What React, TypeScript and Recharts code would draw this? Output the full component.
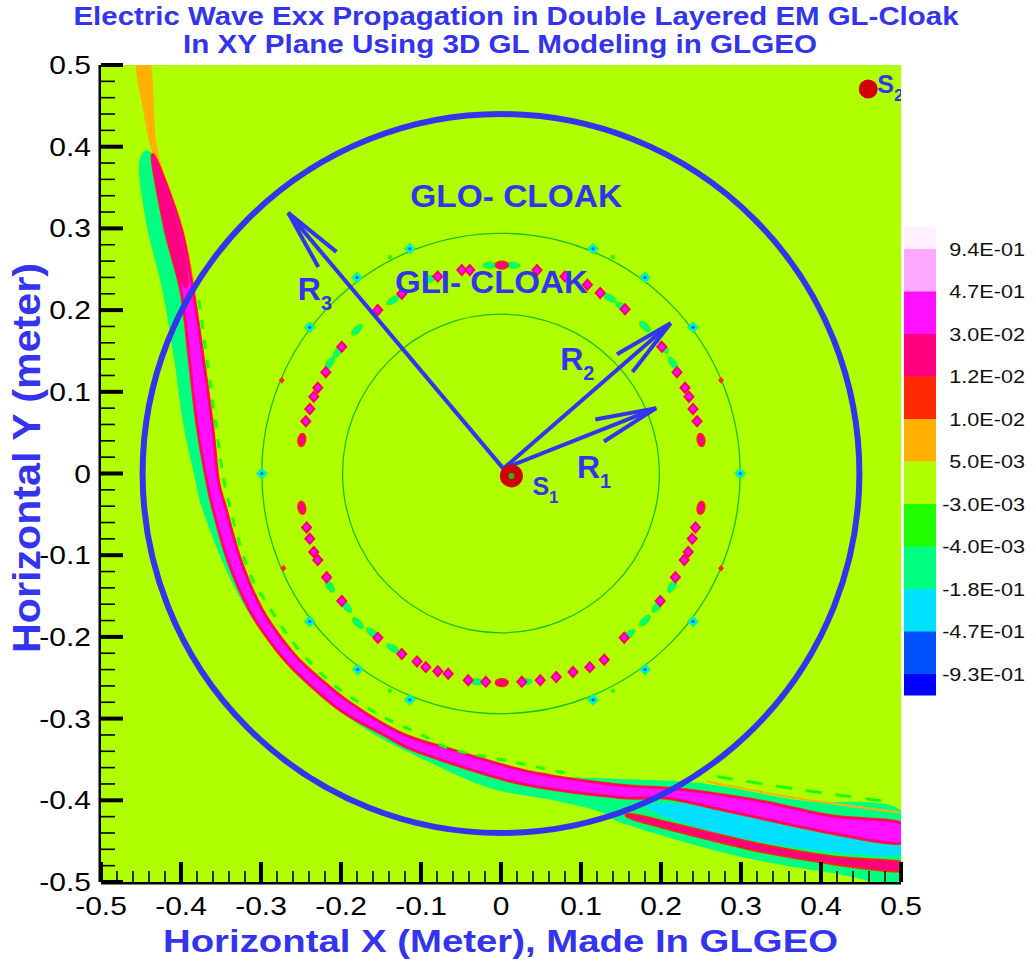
import React from "react";
import { ComposedChart, Scatter, XAxis, YAxis } from "recharts";

type Pt = [number, number];

const FONT = "'Liberation Sans', Arial, Helvetica, sans-serif";
const BLUE = "#3434ee";

// axis ticks (metres)
const majorTicks = [-0.5, -0.4, -0.3, -0.2, -0.1, 0, 0.1, 0.2, 0.3, 0.4, 0.5];
const minorTicks = [
  -0.48, -0.46, -0.44, -0.42, -0.38, -0.36, -0.34, -0.32, -0.28, -0.26, -0.24, -0.22,
  -0.18, -0.16, -0.14, -0.12, -0.08, -0.06, -0.04, -0.02, 0.02, 0.04, 0.06, 0.08,
  0.12, 0.14, 0.16, 0.18, 0.22, 0.24, 0.26, 0.28, 0.32, 0.34, 0.36, 0.38,
  0.42, 0.44, 0.46, 0.48,
];

// contour levels, top of the colour bar first
const levelColors = [
  "#fff0ff", "#ffa8ff", "#ff10ff", "#ff0080", "#ff2800", "#ffb000",
  "#b0ff00", "#20ff00", "#00ff80", "#00e0ff", "#0050ff", "#0000ff",
];
const levelLabels = [
  "9.4E-01", "4.7E-01", "3.0E-02", "1.2E-02", "1.0E-02", "5.0E-03",
  "-3.0E-03", "-4.0E-03", "-1.8E-01", "-4.7E-01", "-9.3E-01",
];

// field regions (x, y in metres)
const plotFrame: Pt[] = [[-0.5, -0.5], [-0.5, 0.5], [0.5, 0.5], [0.5, -0.5]];

const orangeStrip: Pt[] = [
  [-0.456, 0.5], [-0.4375, 0.5], [-0.429, 0.396], [-0.3975, 0.302], [-0.381, 0.221],
  [-0.385, 0.221], [-0.401, 0.302], [-0.435, 0.39], [-0.4475, 0.445],
];

const greenBand: Pt[] = [
  [-0.4525, 0.378], [-0.4425, 0.302], [-0.4225, 0.221], [-0.4085, 0.139], [-0.3965, 0.057],
  [-0.382, -0.008], [-0.374, -0.041], [-0.349, -0.106], [-0.3175, -0.167], [-0.2725, -0.228],
  [-0.23, -0.269], [-0.1675, -0.314], [-0.101, -0.348], [-0.0175, -0.384], [0.065, -0.4],
  [0.124, -0.414], [0.1575, -0.43], [0.29, -0.467], [0.415, -0.489], [0.499, -0.4975],
  [0.499, -0.412], [0.374, -0.4], [0.249, -0.379], [0.124, -0.373], [0.049, -0.368],
  [-0.064, -0.338], [-0.126, -0.318], [-0.189, -0.281], [-0.239, -0.241], [-0.264, -0.216],
  [-0.299, -0.167], [-0.326, -0.106], [-0.345, -0.041], [-0.354, -0.008], [-0.361, 0.057],
  [-0.3725, 0.139], [-0.385, 0.221], [-0.401, 0.302], [-0.435, 0.39],
];

const cyanBand: Pt[] = [
  [0.195, -0.404], [0.29, -0.41], [0.415, -0.436], [0.499, -0.448],
  [0.499, -0.467], [0.415, -0.463], [0.29, -0.445], [0.195, -0.416],
];

const lowerRedBand: Pt[] = [
  [0.174, -0.42], [0.311, -0.452], [0.415, -0.47], [0.499, -0.476],
  [0.499, -0.486], [0.415, -0.477], [0.311, -0.459], [0.174, -0.425],
];

const mainBand: Pt[] = [
  [-0.435, 0.39], [-0.401, 0.302], [-0.385, 0.221], [-0.3725, 0.139], [-0.361, 0.057],
  [-0.354, -0.008], [-0.345, -0.041], [-0.326, -0.106], [-0.299, -0.167], [-0.264, -0.216],
  [-0.239, -0.241], [-0.189, -0.281], [-0.126, -0.318], [-0.064, -0.338], [0.024, -0.363],
  [0.099, -0.376], [0.161, -0.383], [0.224, -0.387], [0.29, -0.396], [0.3325, -0.403],
  [0.415, -0.42], [0.499, -0.428],
  [0.499, -0.452], [0.415, -0.44], [0.29, -0.414], [0.2075, -0.397], [0.149, -0.396],
  [0.024, -0.379], [-0.101, -0.341], [-0.145, -0.32], [-0.201, -0.289], [-0.251, -0.247],
  [-0.28, -0.216], [-0.314, -0.167], [-0.341, -0.106], [-0.36, -0.041], [-0.3675, -0.008],
  [-0.379, 0.057], [-0.389, 0.139], [-0.399, 0.221], [-0.42, 0.302],
];

const mainBandTip: Pt[] = [
  [-0.434, 0.386], [-0.403, 0.302], [-0.3905, 0.235], [-0.4005, 0.235], [-0.4185, 0.302],
];

const dashesAlongBand: Pt[] = [
  [-0.3775, 0.212], [-0.3675, 0.139], [-0.356, 0.057], [-0.344, -0.02], [-0.3175, -0.114],
  [-0.2925, -0.159], [-0.255, -0.213], [-0.2075, -0.26], [-0.151, -0.296], [-0.101, -0.319],
  [-0.06, -0.338], [0.015, -0.353], [0.086, -0.368],
];
const dashesRight: Pt[] = [[0.27, -0.371], [0.374, -0.387], [0.486, -0.402]];
const orangeEdge: Pt[] = [[0.2575, -0.377], [0.374, -0.398], [0.499, -0.415]];

// cloak boundaries: centre and semi-axes (outer circle, GLO ring, GLI ring)
const cloakCenter: Pt = [0, 0];
const ringRadii: Pt[] = [[0.448, 0.44], [0.299, 0.294], [0.198, 0.195]];

// field spots along the cloak layers
const ringRed: Pt[] = [
  [-0.244, 0.064], [-0.239, 0.079], [-0.234, 0.094], [-0.229, 0.105], [-0.219, 0.124],
  [-0.199, 0.155], [-0.154, 0.2], [-0.124, 0.22], [-0.079, 0.241], [-0.049, 0.249],
  [-0.039, 0.249], [0.045, 0.249], [0.08, 0.241], [0.108, 0.231], [0.124, 0.221],
  [0.155, 0.201], [0.201, 0.155], [0.22, 0.124], [0.23, 0.105], [0.235, 0.094],
  [0.24, 0.079], [0.245, 0.064],
  [-0.243, -0.066], [-0.239, -0.08], [-0.234, -0.096], [-0.229, -0.106], [-0.218, -0.127],
  [-0.199, -0.156], [-0.154, -0.201], [-0.124, -0.221], [-0.105, -0.23], [-0.094, -0.237],
  [-0.079, -0.242], [-0.066, -0.245], [-0.041, -0.253], [-0.019, -0.255], [0.026, -0.255],
  [0.049, -0.253], [0.069, -0.249], [0.09, -0.243], [0.111, -0.237], [0.129, -0.228],
  [0.154, -0.201], [0.199, -0.156], [0.218, -0.127], [0.229, -0.106], [0.234, -0.096],
  [0.239, -0.08], [0.243, -0.066],
];
const ringOval: Pt[] = [
  [-0.249, 0.041], [0.25, 0.041], [-0.249, -0.042], [0.25, -0.042], [0.001, 0.255], [0.001, -0.256],
];
const ringGreen: Pt[] = [
  [-0.214, 0.135], [-0.204, 0.149], [-0.18, 0.176], [-0.135, 0.212], [-0.089, 0.238],
  [-0.014, 0.255], [0.015, 0.255], [0.136, 0.215], [0.151, 0.204], [0.18, 0.18],
  [0.203, 0.154], [0.215, 0.135],
  [-0.214, -0.138], [-0.193, -0.163], [-0.179, -0.183], [-0.161, -0.195], [-0.135, -0.214],
  [-0.03, -0.255], [0.03, -0.255], [0.16, -0.197], [0.18, -0.18], [0.195, -0.163], [0.214, -0.138],
];
const outerRingMarks: Pt[] = [
  [-0.299, 0], [0.299, 0], [-0.239, 0.179], [-0.18, 0.24], [-0.114, 0.275], [0.115, 0.275],
  [0.18, 0.24], [0.24, 0.179], [-0.239, -0.181], [-0.179, -0.24], [-0.114, -0.277],
  [0.115, -0.277], [0.18, -0.24], [0.24, -0.181],
];
const outerRedDots: Pt[] = [[-0.274, 0.114], [0.275, 0.114], [-0.272, -0.116], [0.275, -0.116]];
const outerGreenDots: Pt[] = [[-0.139, 0.265], [0.14, 0.265], [-0.139, -0.266], [0.14, -0.266]];

// radius arrows
const arrowStart: Pt = [0.003, 0.006];
const arrowTips: Pt[] = [[0.194, 0.08], [0.212, 0.184], [-0.266, 0.319]];

// annotations
const sourceNames = ["1", "2"];
const sourcePos: Pt[] = [[0.013, -0.003], [0.459, 0.4706]];
const cloakNames = ["GLO- CLOAK", "GLI- CLOAK"];
const cloakNamePos: Pt[] = [[0.019, 0.326], [-0.012, 0.221]];
const radiusNames = ["1", "2", "3"];
const radiusNamePos: Pt[] = [[0.095, -0.0055], [0.074, 0.127], [-0.254, 0.212]];

// ---------- drawing helpers ----------
type XY = { x: number; y: number };
const rows = (pts: Pt[]) => pts.map(([x, y]) => ({ x, y }));
const f = (n: number) => n.toFixed(1);

// Catmull-Rom through the projected vertices, so contour edges come out smooth
const smoothPath = (pts: XY[], closed: boolean) => {
  const n = pts.length;
  const at = (i: number) => (closed ? pts[(i + n) % n] : pts[Math.max(0, Math.min(n - 1, i))]);
  let d = `M${f(pts[0].x)},${f(pts[0].y)}`;
  const last = closed ? n : n - 1;
  for (let i = 0; i < last; i++) {
    const p0 = at(i - 1), p1 = at(i), p2 = at(i + 1), p3 = at(i + 2);
    d += `C${f(p1.x + (p2.x - p0.x) / 6)},${f(p1.y + (p2.y - p0.y) / 6)} ${f(p2.x - (p3.x - p1.x) / 6)},${f(
      p2.y - (p3.y - p1.y) / 6
    )} ${f(p2.x)},${f(p2.y)}`;
  }
  return closed ? d + "Z" : d;
};
const straightPath = (pts: XY[]) => pts.map((q, i) => `${i ? "L" : "M"}${f(q.x)},${f(q.y)}`).join("") + "Z";

const noDot = () => <g />;
const isMajor = (v: number) => majorTicks.some((m) => Math.abs(m - v) < 1e-9);
const fmt = (v: number) => (Math.abs(v) < 1e-9 ? "0" : String(v));

function region(key: string, pts: Pt[], fill: string, edge?: string, inner?: string, smooth = true) {
  return (
    <Scatter
      key={key}
      data={rows(pts)}
      isAnimationActive={false}
      shape={noDot}
      line={(p: any) => {
        const d = smooth ? smoothPath(p.points, true) : straightPath(p.points);
        return (
          <g>
            {edge && <path d={d} fill="none" stroke={edge} strokeWidth={4} strokeLinejoin="round" />}
            <path d={d} fill={fill} stroke={inner ?? "none"} strokeWidth={inner ? 2 : 0} strokeLinejoin="round" />
          </g>
        );
      }}
    />
  );
}

function stroke(key: string, pts: Pt[], color: string, width: number, dash?: string) {
  return (
    <Scatter
      key={key}
      data={rows(pts)}
      isAnimationActive={false}
      shape={noDot}
      line={(p: any) => (
        <path d={smoothPath(p.points, false)} fill="none" stroke={color} strokeWidth={width} strokeDasharray={dash} />
      )}
    />
  );
}

function ring(key: string, r: Pt, color: string, width: number) {
  const data = rows([cloakCenter, [cloakCenter[0] + r[0], cloakCenter[1]], [cloakCenter[0], cloakCenter[1] + r[1]]]);
  return (
    <Scatter
      key={key}
      data={data}
      isAnimationActive={false}
      shape={noDot}
      line={(p: any) => {
        const [c, ex, ey] = p.points;
        return (
          <ellipse cx={c.x} cy={c.y} rx={Math.abs(ex.x - c.x)} ry={Math.abs(c.y - ey.y)} fill="none" stroke={color} strokeWidth={width} />
        );
      }}
    />
  );
}

function arrow(key: string, tip: Pt) {
  return (
    <Scatter
      key={key}
      data={rows([arrowStart, tip])}
      isAnimationActive={false}
      shape={noDot}
      line={(p: any) => {
        const [a, b] = p.points;
        const ang = Math.atan2(a.y - b.y, a.x - b.x);
        const s = (11 * Math.PI) / 180;
        const L = 62;
        const w1 = `${b.x + L * Math.cos(ang + s)},${b.y + L * Math.sin(ang + s)}`;
        const w2 = `${b.x + L * Math.cos(ang - s)},${b.y + L * Math.sin(ang - s)}`;
        return (
          <g stroke={BLUE} strokeWidth={4} fill="none">
            <line x1={a.x} y1={a.y} x2={b.x} y2={b.y} />
            <polyline points={`${w1} ${b.x},${b.y} ${w2}`} strokeLinejoin="miter" />
          </g>
        );
      }}
    />
  );
}

const tangent = (p: any) => (Math.atan2(-p.payload.y, p.payload.x) * 180) / Math.PI + 90;

const redDiamond = (p: any) => (
  <path
    d={`M${p.cx},${p.cy - 5}L${p.cx + 4.5},${p.cy}L${p.cx},${p.cy + 5}L${p.cx - 4.5},${p.cy}Z`}
    fill="#ff10ff"
    stroke="#ff0060"
    strokeWidth={2}
  />
);
const redOval = (p: any) => (
  <ellipse cx={p.cx} cy={p.cy} rx={6.5} ry={3.8} transform={`rotate(${tangent(p)} ${p.cx} ${p.cy})`} fill="#ff0080" stroke="#ff2800" strokeWidth={1.5} />
);
const greenMark = (p: any) => (
  <ellipse cx={p.cx} cy={p.cy} rx={7} ry={3} transform={`rotate(${tangent(p)} ${p.cx} ${p.cy})`} fill="#00ff80" stroke="#20ff00" strokeWidth={1} />
);
const outerMark = (p: any) => (
  <g>
    <path d={`M${p.cx},${p.cy - 6}L${p.cx + 6},${p.cy}L${p.cx},${p.cy + 6}L${p.cx - 6},${p.cy}Z`} fill="#00ff80" />
    <path d={`M${p.cx},${p.cy - 3.5}L${p.cx + 3.5},${p.cy}L${p.cx},${p.cy + 3.5}L${p.cx - 3.5},${p.cy}Z`} fill="#00e0ff" />
    <circle cx={p.cx} cy={p.cy} r={1.5} fill="#0050ff" />
  </g>
);
const smallRed = (p: any) => (
  <path d={`M${p.cx},${p.cy - 3.5}L${p.cx + 3},${p.cy}L${p.cx},${p.cy + 3.5}L${p.cx - 3},${p.cy}Z`} fill="#ff2800" />
);
const smallGreen = (p: any) => <circle cx={p.cx} cy={p.cy} r={2.2} fill="#20ff00" />;

function marks(key: string, pts: Pt[], shape: (p: any) => React.ReactElement) {
  return <Scatter key={key} data={rows(pts)} isAnimationActive={false} shape={shape} />;
}

// per source: marker radius and label offset in px
const sourceStyle = [
  { r: 11.5, dx: 21, dy: 19 },
  { r: 9.5, dx: 9, dy: 4 },
];

const xTick = (p: any) => {
  const { x, y, payload } = p;
  const major = isMajor(payload.value);
  return (
    <g>
      <line x1={x} x2={x} y1={y} y2={y - (major ? 20 : 11)} stroke="#000" strokeWidth={major ? 4 : 1.6} />
      {major && (
        <text transform={`translate(${x},${y + 33}) scale(1.2,1)`} textAnchor="middle" fontSize={25} fontFamily={FONT} fill="#000">
          {fmt(payload.value)}
        </text>
      )}
    </g>
  );
};

const yTick = (p: any) => {
  const { x, y, payload } = p;
  const major = isMajor(payload.value);
  return (
    <g>
      <line x1={x} x2={x + (major ? 22 : 14)} y1={y} y2={y} stroke="#000" strokeWidth={major ? 4 : 1.6} />
      {major && (
        <text transform={`translate(${x - 10},${y + 9}) scale(1.2,1)`} textAnchor="end" fontSize={25} fontFamily={FONT} fill="#000">
          {fmt(payload.value)}
        </text>
      )}
    </g>
  );
};

export default function App() {
  const allTicks = [...majorTicks, ...minorTicks].sort((a, b) => a - b);
  const boxTop = 227;
  const step = 42.5;

  return (
    <div style={{ position: "absolute", left: 0, top: 0, width: 1036, height: 967, background: "#fff" }}>
      <ComposedChart width={1036} height={967} margin={{ top: 65, right: 135, bottom: 0, left: 0 }}>
        <XAxis
          type="number"
          dataKey="x"
          domain={[-0.5, 0.5]}
          allowDataOverflow
          ticks={allTicks}
          interval={0}
          height={85}
          tickSize={0}
          tickMargin={0}
          tickLine={false}
          tick={xTick}
          axisLine={{ stroke: "#000", strokeWidth: 5 }}
        />
        <YAxis
          type="number"
          dataKey="y"
          domain={[-0.5, 0.5]}
          allowDataOverflow
          ticks={allTicks}
          interval={0}
          width={101}
          tickSize={0}
          tickMargin={0}
          tickLine={false}
          tick={yTick}
          axisLine={{ stroke: "#000", strokeWidth: 5 }}
        />
        {region("bg", plotFrame, levelColors[6], undefined, undefined, false)}
        {region("orange", orangeStrip, levelColors[5])}
        {region("green", greenBand, levelColors[8])}
        {region("cyan", cyanBand, levelColors[9])}
        {region("lowerRed", lowerRedBand, levelColors[3], levelColors[4])}
        {region("main", mainBand, levelColors[2], levelColors[4], levelColors[3])}
        {region("tip", mainBandTip, levelColors[3])}
        {stroke("orangeEdge", orangeEdge, levelColors[5], 2)}
        {stroke("dashL", dashesAlongBand, levelColors[7], 3, "9 11")}
        {stroke("dashR", dashesRight, levelColors[7], 3, "16 14")}
        {ring("gloRing", ringRadii[1], "#17c017", 1.3)}
        {ring("gliRing", ringRadii[2], "#17c017", 1.3)}
        {marks("outerMarks", outerRingMarks, outerMark)}
        {marks("outerRed", outerRedDots, smallRed)}
        {marks("outerGreen", outerGreenDots, smallGreen)}
        {marks("ringGreen", ringGreen, greenMark)}
        {marks("ringRed", ringRed, redDiamond)}
        {marks("ringOval", ringOval, redOval)}
        {ring("outerCircle", ringRadii[0], BLUE, 6)}
        {arrowTips.map((t, i) => arrow(`arrow${i}`, t))}
        {sourcePos.map((s, i) => (
          <Scatter
            key={`src${i}`}
            data={rows([s])}
            isAnimationActive={false}
            shape={(p: any) => (
              <g>
                <circle cx={p.cx} cy={p.cy} r={sourceStyle[i].r} fill="#d00000" />
                {i === 0 && <circle cx={p.cx} cy={p.cy} r={3} fill="#22bb22" />}
                <text x={p.cx + sourceStyle[i].dx} y={p.cy + sourceStyle[i].dy} fill={BLUE} fontFamily={FONT} fontWeight="bold" fontSize={25}>
                  S
                  <tspan fontSize={17} dy={8}>
                    {sourceNames[i]}
                  </tspan>
                </text>
              </g>
            )}
          />
        ))}
        {cloakNamePos.map((c, i) => (
          <Scatter
            key={`cloak${i}`}
            data={rows([c])}
            isAnimationActive={false}
            shape={(p: any) => (
              <text x={p.cx} y={p.cy} fill={BLUE} fontFamily={FONT} fontWeight="bold" fontSize={32} textAnchor="middle" textLength={i === 0 ? 212 : 193} lengthAdjust="spacingAndGlyphs">
                {cloakNames[i]}
              </text>
            )}
          />
        ))}
        {radiusNamePos.map((c, i) => (
          <Scatter
            key={`rad${i}`}
            data={rows([c])}
            isAnimationActive={false}
            shape={(p: any) => (
              <text x={p.cx} y={p.cy} fill={BLUE} fontFamily={FONT} fontWeight="bold" fontSize={32}>
                R
                <tspan fontSize={20} dy={10}>
                  {radiusNames[i]}
                </tspan>
              </text>
            )}
          />
        ))}
      </ComposedChart>

      <svg width={1036} height={967} style={{ position: "absolute", left: 0, top: 0, pointerEvents: "none" }}>
        <g fill={BLUE} fontFamily={FONT} fontWeight="bold">
          <text x={516} y={25} fontSize={25} textAnchor="middle" textLength={885} lengthAdjust="spacingAndGlyphs">
            Electric Wave Exx Propagation in Double Layered EM GL-Cloak
          </text>
          <text x={500} y={53} fontSize={25} textAnchor="middle" textLength={634} lengthAdjust="spacingAndGlyphs">
            In XY Plane Using 3D GL Modeling in GLGEO
          </text>
          <text x={500.5} y={952} fontSize={32} textAnchor="middle" textLength={675} lengthAdjust="spacingAndGlyphs">
            Horizontal X (Meter), Made In GLGEO
          </text>
          <text transform="translate(39.5,458) rotate(-90)" fontSize={38} textAnchor="middle" textLength={390} lengthAdjust="spacingAndGlyphs">
            Horizontal Y (meter)
          </text>
        </g>
        {levelColors.map((c, i) => {
          const y0 = i === 0 ? boxTop : boxTop + 22 + step * (i - 1);
          const h = i === 0 ? 22 : i === levelColors.length - 1 ? 21 : step;
          return <rect key={c} x={904} y={y0} width={32} height={h + 0.5} fill={c} />;
        })}
        {levelLabels.map((t, i) => (
          <text
            key={t}
            transform={`translate(1025,${boxTop + 22 + step * i + 6.5}) scale(1.2,1)`}
            textAnchor="end"
            fontSize={18}
            fontFamily={FONT}
            fill="#111"
          >
            {t}
          </text>
        ))}
      </svg>
    </div>
  );
}
